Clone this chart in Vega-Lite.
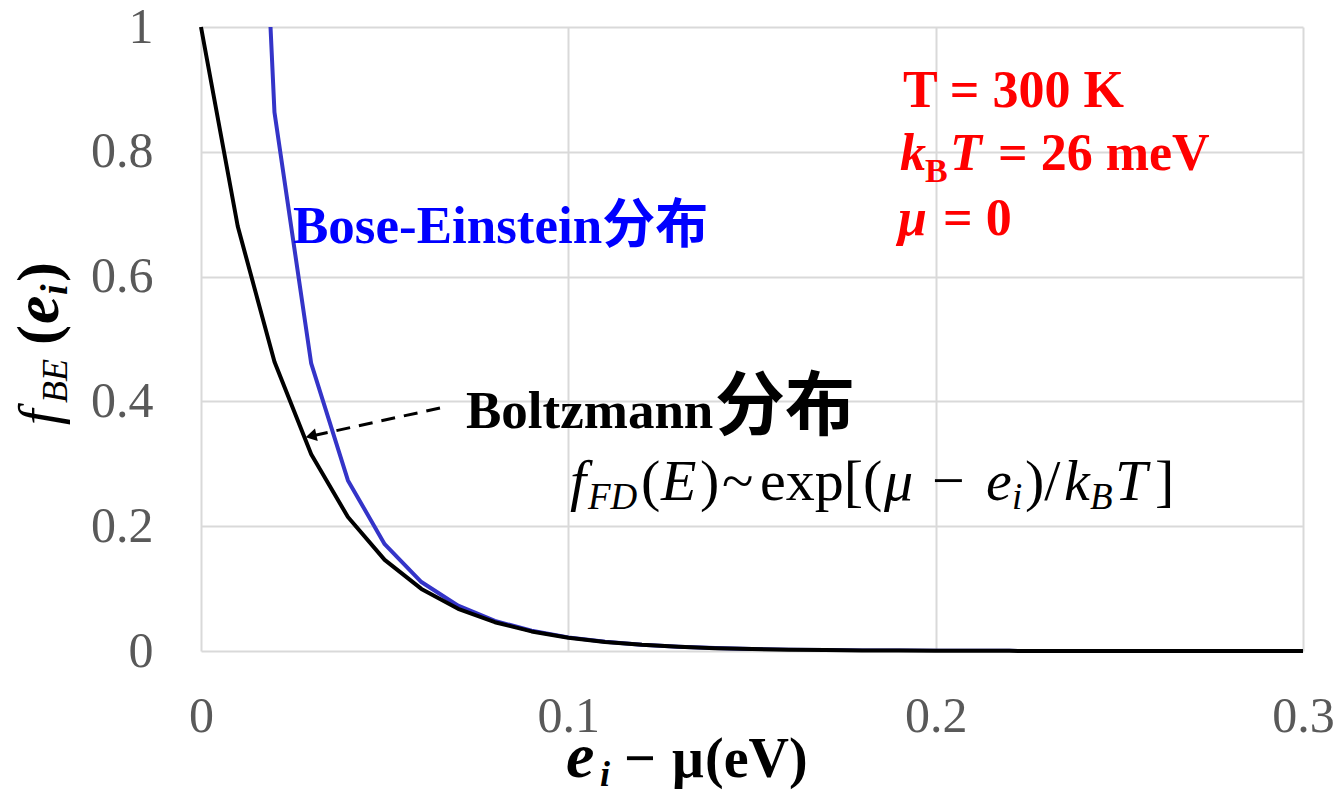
{
  "$schema": "https://vega.github.io/schema/vega-lite/v6.json",
  "width": 1102,
  "height": 624,
  "autosize": {"type": "none"},
  "padding": {"left": 201, "top": 27, "right": 36, "bottom": 144},
  "background": "white",
  "config": {
    "view": {"stroke": null},
    "axis": {
      "grid": true, "gridColor": "#d9d9d9", "gridWidth": 2,
      "domain": false, "ticks": false, "tickSize": 0,
      "labelFont": "Liberation Serif", "labelFontSize": 50, "labelColor": "#595959",
      "title": null
    },
    "text": {"font": "Liberation Serif", "align": "left", "baseline": "alphabetic"}
  },
  "encoding": {
    "x": {"field": "x", "type": "quantitative",
      "scale": {"domain": [0, 0.3], "nice": false, "zero": false},
      "axis": {"values": [0, 0.1, 0.2, 0.3], "format": "~g", "labelPadding": 40, "labelFlush": false, "labelOverlap": false}},
    "y": {"field": "y", "type": "quantitative",
      "scale": {"domain": [0, 1], "nice": false, "zero": false},
      "axis": {"values": [0, 0.2, 0.4, 0.6, 0.8, 1], "format": "~g", "labelPadding": 48, "labelFlush": false, "labelOverlap": false}}
  },
  "layer": [
    {
      "data": {"values": [
        {"x": 0.01, "y": 2.1318}, {"x": 0.02, "y": 0.8634}, {"x": 0.03, "y": 0.4608},
        {"x": 0.04, "y": 0.2734}, {"x": 0.05, "y": 0.1712}, {"x": 0.06, "y": 0.1105},
        {"x": 0.07, "y": 0.0726}, {"x": 0.08, "y": 0.0483}, {"x": 0.09, "y": 0.0324},
        {"x": 0.10, "y": 0.02183}, {"x": 0.11, "y": 0.01476}, {"x": 0.12, "y": 0.00999},
        {"x": 0.13, "y": 0.00678}, {"x": 0.14, "y": 0.00461}, {"x": 0.15, "y": 0.00313},
        {"x": 0.16, "y": 0.00213}, {"x": 0.17, "y": 0.00145}, {"x": 0.18, "y": 0.00098},
        {"x": 0.19, "y": 0.00067}, {"x": 0.20, "y": 0.00046}, {"x": 0.21, "y": 0.00031},
        {"x": 0.22, "y": 0.00021}, {"x": 0.23, "y": 0.00014}, {"x": 0.24, "y": 0.0001},
        {"x": 0.25, "y": 0.00007}, {"x": 0.26, "y": 0.00005}, {"x": 0.27, "y": 0.00003},
        {"x": 0.28, "y": 0.00002}, {"x": 0.29, "y": 0.00001}, {"x": 0.30, "y": 0.00001}
      ]},
      "mark": {"type": "line", "color": "#3434c8", "strokeWidth": 4, "clip": true, "strokeJoin": "round"}
    },
    {
      "data": {"values": [
        {"x": 0, "y": 1}, {"x": 0.01, "y": 0.6807}, {"x": 0.02, "y": 0.4634}, {"x": 0.03, "y": 0.3154},
        {"x": 0.04, "y": 0.2147}, {"x": 0.05, "y": 0.1461}, {"x": 0.06, "y": 0.0995},
        {"x": 0.07, "y": 0.0677}, {"x": 0.08, "y": 0.0461}, {"x": 0.09, "y": 0.0314},
        {"x": 0.10, "y": 0.02136}, {"x": 0.11, "y": 0.01454}, {"x": 0.12, "y": 0.0099},
        {"x": 0.13, "y": 0.00674}, {"x": 0.14, "y": 0.00459}, {"x": 0.15, "y": 0.00312},
        {"x": 0.16, "y": 0.00213}, {"x": 0.17, "y": 0.00145}, {"x": 0.18, "y": 0.00098},
        {"x": 0.19, "y": 0.00067}, {"x": 0.20, "y": 0.00046}, {"x": 0.21, "y": 0.00031},
        {"x": 0.22, "y": 0.00021}, {"x": 0.23, "y": 0.00014}, {"x": 0.24, "y": 0.0001},
        {"x": 0.25, "y": 0.00007}, {"x": 0.26, "y": 0.00005}, {"x": 0.27, "y": 0.00003},
        {"x": 0.28, "y": 0.00002}, {"x": 0.29, "y": 0.00001}, {"x": 0.30, "y": 0.00001}
      ]},
      "mark": {"type": "line", "color": "#000000", "strokeWidth": 4, "strokeJoin": "round"}
    },
    {
      "data": {"values": [{"x": 0.06506, "y": 0.3894, "x2": 0.0302, "y2": 0.3446}]},
      "mark": {"type": "rule", "color": "#000000", "strokeWidth": 3, "strokeDash": [14, 9]},
      "encoding": {"x2": {"field": "x2"}, "y2": {"field": "y2"}}
    },
    {
      "data": {"values": [{"x": 0.02995, "y": 0.3446}]},
      "mark": {"type": "point", "shape": "triangle-up", "angle": 257.5, "size": 160, "filled": true, "color": "#000000", "opacity": 1}
    },
    {
      "data": {"values": [
        {"x": 0.19111, "y": 0.87179, "t": "T = 300 K"},
        {"x": 0.21697, "y": 0.77083, "t": "= 26 meV"},
        {"x": 0.20200, "y": 0.66667, "t": "= 0"}
      ]},
      "mark": {"type": "text", "fontSize": 52, "fontWeight": "bold", "color": "#ff0000"},
      "encoding": {"text": {"field": "t"}}
    },
    {
      "data": {"values": [
        {"x": 0.19029, "y": 0.77083, "t": "k"},
        {"x": 0.20390, "y": 0.77083, "t": "T"},
        {"x": 0.18975, "y": 0.66667, "t": "μ"}
      ]},
      "mark": {"type": "text", "fontSize": 52, "fontWeight": "bold", "fontStyle": "italic", "color": "#ff0000"},
      "encoding": {"text": {"field": "t"}}
    },
    {
      "data": {"values": [{"x": 0.19710, "y": 0.7516, "t": "B"}]},
      "mark": {"type": "text", "fontSize": 34, "fontWeight": "bold", "color": "#ff0000"},
      "encoding": {"text": {"field": "t"}}
    },
    {
      "data": {"values": [{"x": 0.02505, "y": 0.65385, "t": "Bose-Einstein分布"}]},
      "mark": {"type": "text", "font": "Liberation Serif, Noto Sans CJK SC", "fontSize": 53, "fontWeight": "bold", "color": "#0000ff"},
      "encoding": {"text": {"field": "t"}}
    },
    {
      "data": {"values": [{"x": 0.07214, "y": 0.35737, "t": "Boltzmann"}]},
      "mark": {"type": "text", "fontSize": 53, "fontWeight": "bold", "color": "#000000"},
      "encoding": {"text": {"field": "t"}}
    },
    {
      "data": {"values": [
        {"x": 0.11516, "y": -0.2019, "t": "−"},
        {"x": 0.12822, "y": -0.2019, "t": "μ"},
        {"x": 0.13721, "y": -0.2019, "t": "(eV)"}
      ]},
      "mark": {"type": "text", "fontSize": 56, "fontWeight": "bold", "color": "#000000"},
      "encoding": {"text": {"field": "t"}}
    },
    {
      "data": {"values": [{"x": 0.13993, "y": 0.35417, "t": "分布"}]},
      "mark": {"type": "text", "font": "Noto Sans CJK SC", "fontSize": 70, "fontWeight": "bold", "color": "#000000"},
      "encoding": {"text": {"field": "t"}}
    },
    {
      "data": {"values": [
        {"x": 0.11978, "y": 0.2420, "t": "("},
        {"x": 0.13584, "y": 0.2420, "t": ")"},
        {"x": 0.14183, "y": 0.2420, "t": "~"},
        {"x": 0.15218, "y": 0.2420, "t": "exp[("},
        {"x": 0.19900, "y": 0.2420, "t": "−"},
        {"x": 0.22432, "y": 0.2420, "t": ")/"},
        {"x": 0.25971, "y": 0.2420, "t": "]"}
      ]},
      "mark": {"type": "text", "fontSize": 58, "color": "#000000"},
      "encoding": {"text": {"field": "t"}}
    },
    {
      "data": {"values": [
        {"x": 0.10045, "y": 0.2420, "t": "f"},
        {"x": 0.12523, "y": 0.2420, "t": "E"},
        {"x": 0.18593, "y": 0.2420, "t": "μ"},
        {"x": 0.21370, "y": 0.2420, "t": "e"},
        {"x": 0.23494, "y": 0.2420, "t": "k"},
        {"x": 0.24882, "y": 0.2420, "t": "T"}
      ]},
      "mark": {"type": "text", "fontSize": 58, "fontStyle": "italic", "color": "#000000"},
      "encoding": {"text": {"field": "t"}}
    },
    {
      "data": {"values": [
        {"x": 0.10535, "y": 0.2276, "t": "FD"},
        {"x": 0.22078, "y": 0.2276, "t": "i"},
        {"x": 0.24202, "y": 0.2276, "t": "B"}
      ]},
      "mark": {"type": "text", "fontSize": 37, "fontStyle": "italic", "color": "#000000"},
      "encoding": {"text": {"field": "t"}}
    },
    {
      "data": {"values": [{"x": 0.09937, "y": -0.2019, "t": "e"}]},
      "mark": {"type": "text", "fontSize": 64, "fontWeight": "bold", "fontStyle": "italic", "color": "#000000"},
      "encoding": {"text": {"field": "t"}}
    },
    {
      "data": {"values": [{"x": 0.10862, "y": -0.2163, "t": "i"}]},
      "mark": {"type": "text", "fontSize": 36, "fontWeight": "bold", "fontStyle": "italic", "color": "#000000"},
      "encoding": {"text": {"field": "t"}}
    },
    {
      "data": {"values": [{"x": -0.03893, "y": 0.3622, "t": "f"}]},
      "mark": {"type": "text", "angle": 270, "fontSize": 56, "fontStyle": "italic", "color": "#000000"},
      "encoding": {"text": {"field": "t"}}
    },
    {
      "data": {"values": [{"x": -0.03648, "y": 0.3974, "t": "BE"}]},
      "mark": {"type": "text", "angle": 270, "fontSize": 36, "fontStyle": "italic", "color": "#000000"},
      "encoding": {"text": {"field": "t"}}
    },
    {
      "data": {"values": [
        {"x": -0.03893, "y": 0.4904, "t": "("},
        {"x": -0.03893, "y": 0.5913, "t": ")"}
      ]},
      "mark": {"type": "text", "angle": 270, "fontSize": 60, "fontWeight": "bold", "color": "#000000"},
      "encoding": {"text": {"field": "t"}}
    },
    {
      "data": {"values": [{"x": -0.03893, "y": 0.5240, "t": "e"}]},
      "mark": {"type": "text", "angle": 270, "fontSize": 64, "fontWeight": "bold", "fontStyle": "italic", "color": "#000000"},
      "encoding": {"text": {"field": "t"}}
    },
    {
      "data": {"values": [{"x": -0.03648, "y": 0.5705, "t": "i"}]},
      "mark": {"type": "text", "angle": 270, "fontSize": 38, "fontWeight": "bold", "fontStyle": "italic", "color": "#000000"},
      "encoding": {"text": {"field": "t"}}
    }
  ]
}
